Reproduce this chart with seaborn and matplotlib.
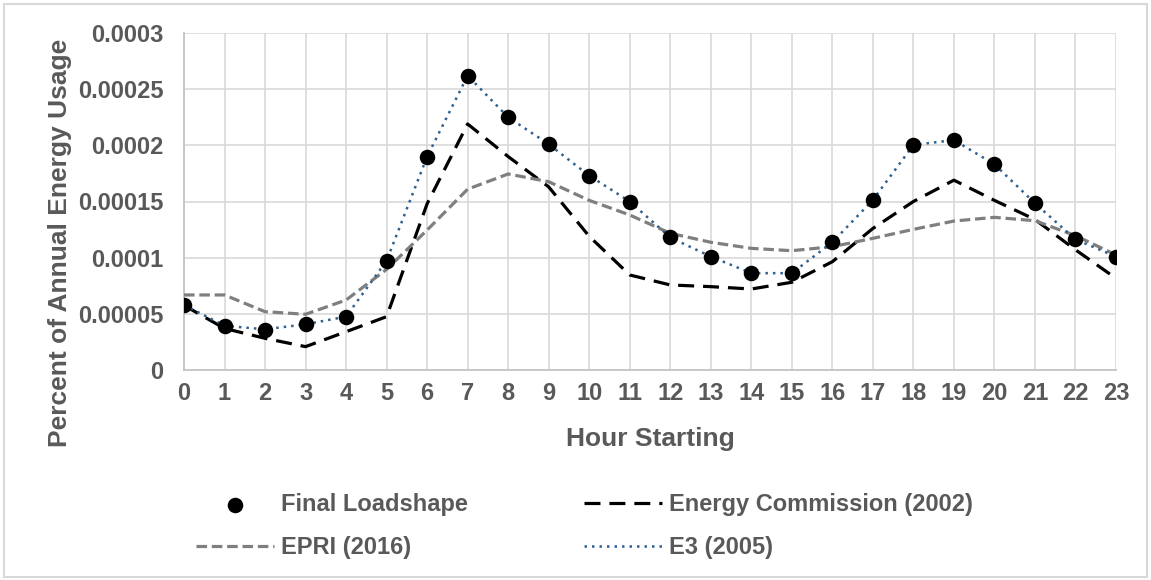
import matplotlib
matplotlib.use("Agg")
import matplotlib.pyplot as plt
import seaborn as sns
from matplotlib.patches import Rectangle

# Hourly load shapes (share of annual energy use, by starting hour)
hours = list(range(24))
final_loadshape = [0.0000579, 0.0000394, 0.0000356, 0.0000407, 0.0000475, 0.0000973,
                   0.000190, 0.000262, 0.000225, 0.000201, 0.000173, 0.000150,
                   0.000118, 0.000101, 0.0000862, 0.0000862, 0.0001137, 0.0001513,
                   0.0002003, 0.0002047, 0.0001831, 0.0001484, 0.0001163, 0.0001009]
energy_commission_2002 = [0.0000575, 0.0000370, 0.0000282, 0.0000208, 0.0000341, 0.0000475,
                          0.000148, 0.000219, 0.000190, 0.000163, 0.000119, 0.0000846,
                          0.0000757, 0.0000742, 0.0000721, 0.0000781, 0.0000964, 0.000126,
                          0.000150, 0.000169, 0.000151, 0.000134, 0.000107, 0.0000816]
epri_2016 = [0.0000668, 0.0000668, 0.0000519, 0.0000496, 0.0000623, 0.0000896,
             0.0001246, 0.000161, 0.0001745, 0.0001676, 0.000151, 0.000138,
             0.0001217, 0.0001137, 0.0001083, 0.0001062, 0.0001098, 0.0001172,
             0.0001252, 0.0001326, 0.0001359, 0.0001329, 0.0001196, 0.0001024]
e3_2005 = [0.0000579, 0.0000394, 0.0000362, 0.0000407, 0.0000475, 0.0000973,
           0.000190, 0.000262, 0.000225, 0.000201, 0.000173, 0.000150,
           0.000118, 0.000101, 0.0000862, 0.0000862, 0.0001137, 0.0001513,
           0.0002003, 0.0002047, 0.0001831, 0.0001484, 0.0001163, 0.0001009]
y_tick_values = [0, 0.00005, 0.0001, 0.00015, 0.0002, 0.00025, 0.0003]
y_tick_labels = ["0", "0.00005", "0.0001", "0.00015", "0.0002", "0.00025", "0.0003"]

sns.set_theme(style="white")
plt.rcParams["font.family"] = ["Liberation Sans", "DejaVu Sans"]
plt.rcParams["font.weight"] = "bold"

TEXT = "#595959"
GRID = "#d9d9d9"

W, H = 1151, 580
fig = plt.figure(figsize=(W / 100, H / 100), dpi=100)
ax = fig.add_axes([184 / W, 1 - 370 / H, 932 / W, 337 / H])

sns.lineplot(x=hours, y=energy_commission_2002, ax=ax, color="black", lw=2.3,
             linestyle=(0, (5, 2.8)), label="Energy Commission (2002)", zorder=3)
sns.lineplot(x=hours, y=epri_2016, ax=ax, color="#7f7f7f", lw=2.3,
             linestyle=(0, (3.3, 1.5)), label="EPRI (2016)", zorder=3)
sns.lineplot(x=hours, y=e3_2005, ax=ax, color="#2e6090", lw=1.8,
             linestyle=(0, (1, 2)), label="E3 (2005)", zorder=4)
sns.scatterplot(x=hours, y=final_loadshape, ax=ax, s=125, color="black",
                edgecolor="black", linewidth=0, label="Final Loadshape", zorder=5)

ax.set_xlim(0, 23)
ax.set_ylim(0, 0.0003)
ax.set_xticks(hours)
ax.set_xticklabels([str(h) for h in hours])
ax.set_yticks(y_tick_values)
ax.set_yticklabels(y_tick_labels)
ax.grid(True, color=GRID, lw=1.2)
ax.set_axisbelow(True)
for side in ("top", "right"):
    ax.spines[side].set_visible(False)
for side in ("left", "bottom"):
    ax.spines[side].set_color("#c4c4c4")
    ax.spines[side].set_linewidth(1.3)
ax.tick_params(axis="both", length=0, labelsize=17, labelcolor=TEXT)
ax.tick_params(axis="x", pad=9)
ax.tick_params(axis="y", pad=15)

ax.set_xlabel("Hour Starting", fontsize=19, color=TEXT, fontweight="bold")
ax.xaxis.label.set_verticalalignment("center")
ax.xaxis.set_label_coords(0.5, -0.205)
ax.set_ylabel("Percent of Annual Energy Usage", fontsize=19, color=TEXT, fontweight="bold")
ax.yaxis.label.set_verticalalignment("center")
ax.yaxis.set_label_coords(-0.133, 0.378)

handles, labels = ax.get_legend_handles_labels()
lookup = dict(zip(labels, handles))
order = ["Final Loadshape", "EPRI (2016)", "Energy Commission (2002)", "E3 (2005)"]
ax.get_legend().remove()
fig.legend([lookup[k] for k in order], order, ncol=2, loc="upper center",
           bbox_to_anchor=(0.508, 0.186), frameon=False,
           prop={"size": 17, "weight": "bold"}, labelcolor=TEXT,
           handlelength=3.3, handletextpad=0.3, columnspacing=4.9,
           labelspacing=0.85, scatterpoints=1)

fig.patches.append(Rectangle((4 / W, 3 / H), 1143 / W, 573 / H, transform=fig.transFigure,
                             fill=False, ec=GRID, lw=1.5))

fig.savefig("out.png", dpi=100)
